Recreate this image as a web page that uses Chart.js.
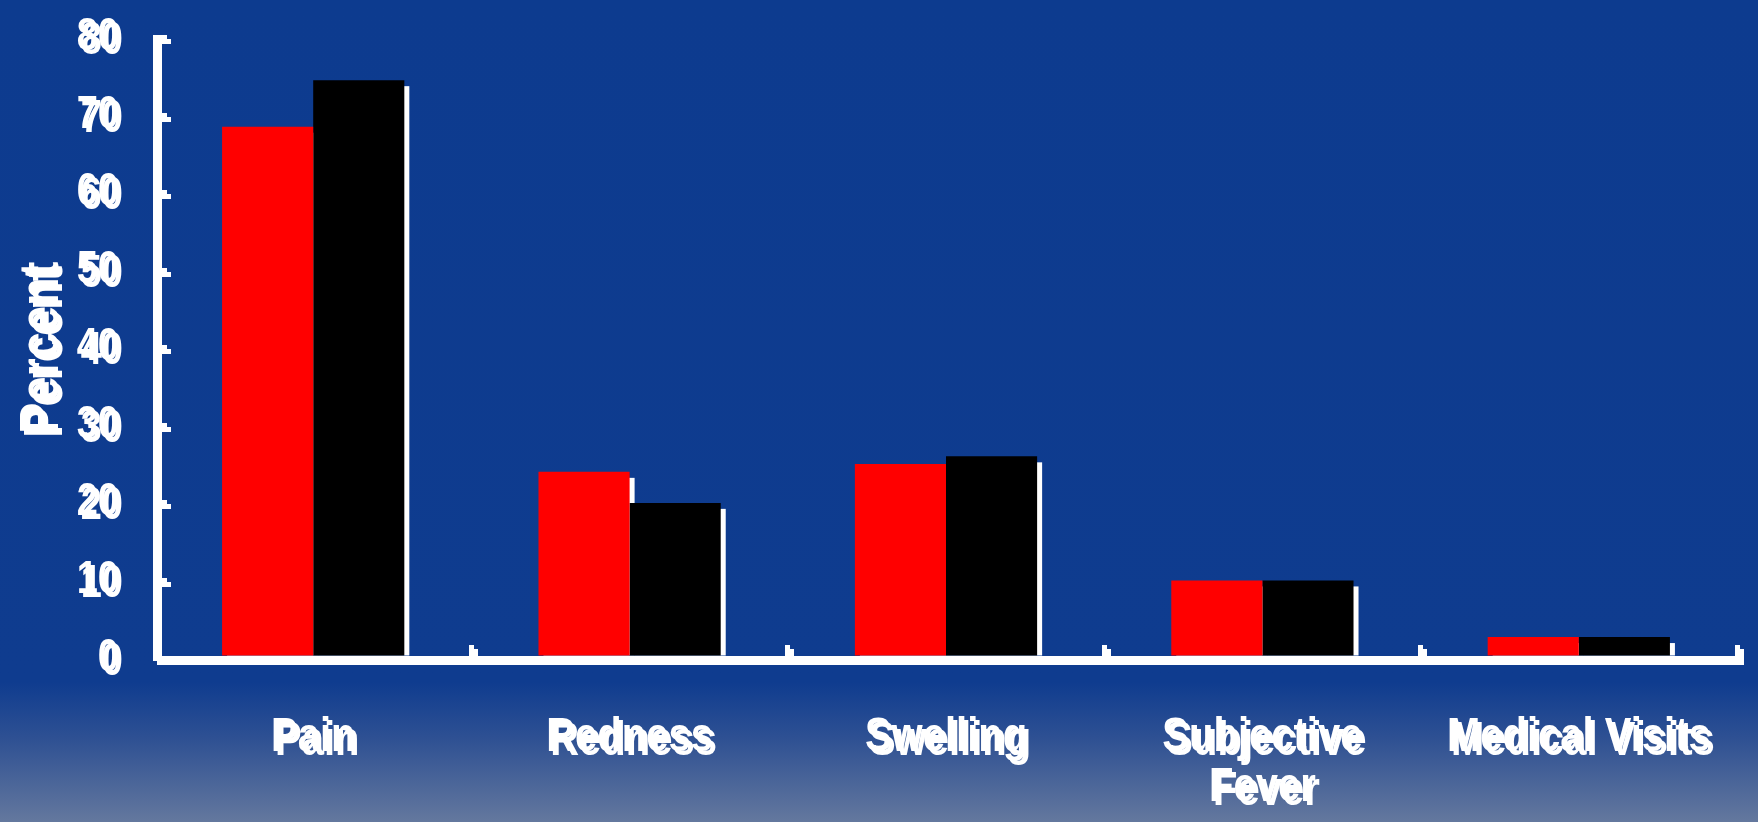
<!DOCTYPE html>
<html>
<head>
<meta charset="utf-8">
<script src="https://cdn.jsdelivr.net/npm/chart.js@4/dist/chart.umd.min.js"></script>
<style>
  html, body { margin: 0; padding: 0; background: #0e3b8f; overflow: hidden; }
  #wrap { width: 1758px; height: 822px; }
</style>
</head>
<body>
<div id="wrap"><canvas id="c" width="1758" height="822"></canvas></div>
<script>
// Local reaction categories (multi-line labels are arrays)
const categories = ['Pain', 'Redness', 'Swelling', ['Subjective', 'Fever'], 'Medical Visits'];
// Percent of subjects reporting each reaction
const redSeries = [68.5, 24, 25, 10, 2.7];
const blackSeries = [74.5, 20, 26, 10, 2.7];
// Y-axis ticks
const yTicks = [0, 10, 20, 30, 40, 50, 60, 70, 80];
const yTitle = 'Percent';

const FONT = "'Liberation Sans', Arial, sans-serif";
const TEXT_STRETCH = 1.2;   // tall slide lettering

function setWhiteShadow(ctx) {
  ctx.shadowColor = '#ffffff';
  ctx.shadowOffsetX = 4;
  ctx.shadowOffsetY = 4;
  ctx.shadowBlur = 0;
}
function clearShadow(ctx) {
  ctx.shadowColor = 'rgba(0,0,0,0)';
  ctx.shadowOffsetX = 0;
  ctx.shadowOffsetY = 0;
  ctx.shadowBlur = 0;
}

// Slide background, tall lettering, and the hard white offset shadows of axes, labels and bars
const slideLook = {
  id: 'slideLook',
  beforeDraw(chart) {
    const { ctx, width, height } = chart;
    ctx.save();
    const g = ctx.createLinearGradient(0, 0, 0, height);
    g.addColorStop(0, '#0d3b8f');
    g.addColorStop(0.83, '#0f3c8f');
    g.addColorStop(0.9, '#2f5193');
    g.addColorStop(1, '#64789e');
    ctx.fillStyle = g;
    ctx.fillRect(0, 0, width, height);
    ctx.restore();
    setWhiteShadow(ctx);
    if (!ctx._plainFillText) {
      const plain = ctx.fillText;
      ctx._plainFillText = plain;
      ctx._tallFillText = function (text, x, y, maxWidth) {
        this.save();
        this.translate(x, y);
        this.scale(1, TEXT_STRETCH);
        if (maxWidth === undefined) plain.call(this, text, 0, 0);
        else plain.call(this, text, 0, 0, maxWidth);
        this.restore();
      };
    }
    ctx.fillText = ctx._tallFillText;
  },
  beforeDatasetsDraw(chart) {
    const ctx = chart.ctx;
    clearShadow(ctx);
    ctx.save();
    ctx.fillStyle = '#ffffff';
    chart.data.datasets.forEach((ds, i) => {
      chart.getDatasetMeta(i).data.forEach(bar => {
        const { x, y, base, width } = bar.getProps(['x', 'y', 'base', 'width'], true);
        ctx.fillRect(x - width / 2 + 5, y + 6, width, base - y - 6);
      });
    });
    ctx.restore();
  },
  afterDatasetsDraw(chart) {
    setWhiteShadow(chart.ctx);
  },
  afterDraw(chart) {
    const ctx = chart.ctx;
    clearShadow(ctx);
    if (ctx._plainFillText) ctx.fillText = ctx._plainFillText;
  }
};

new Chart(document.getElementById('c'), {
  type: 'bar',
  data: {
    labels: categories,
    datasets: [
      { label: 'Group 1', data: redSeries, backgroundColor: '#ff0000', borderWidth: 0 },
      { label: 'Group 2', data: blackSeries, backgroundColor: '#000000', borderWidth: 0 }
    ]
  },
  options: {
    responsive: false,
    animation: false,
    devicePixelRatio: 1,
    layout: { padding: { left: 0, right: 21, top: 37.5, bottom: 0 } },
    categoryPercentage: 0.576,
    barPercentage: 1.0,
    plugins: { legend: { display: false }, tooltip: { enabled: false } },
    scales: {
      x: {
        offset: true,
        grid: { display: true, offset: true, drawOnChartArea: false, drawTicks: true, tickLength: -13, color: '#ffffff', lineWidth: 5 },
        border: { display: true, color: '#ffffff', width: 5, z: 1 },
        ticks: {
          color: '#ffffff', padding: 68, maxRotation: 0, autoSkip: false,
          font: { family: FONT, size: 40, weight: 'bold', lineHeight: 1.25 }
        },
        afterFit(scale) { scale.height = 164; scale.paddingLeft = 0; scale.paddingRight = 0; }
      },
      y: {
        min: 0, max: 80,
        afterBuildTicks(scale) { scale.ticks = yTicks.map(v => ({ value: v })); },
        grid: { display: true, drawOnChartArea: false, drawTicks: true, tickLength: -12, color: '#ffffff', lineWidth: 5 },
        border: { display: true, color: '#ffffff', width: 5 },
        ticks: {
          color: '#ffffff', padding: 48, autoSkip: false,
          font: { family: FONT, size: 38, weight: 'bold', lineHeight: 1.2 }
        },
        title: {
          display: true, text: yTitle, color: '#ffffff', padding: { top: 14, bottom: 0 },
          font: { family: FONT, size: 47, weight: 'bold', lineHeight: 1.2 }
        },
        afterFit(scale) { scale.width = 155; scale.paddingTop = 0; scale.paddingBottom = 0; }
      }
    }
  },
  plugins: [slideLook]
});
</script>
</body>
</html>
